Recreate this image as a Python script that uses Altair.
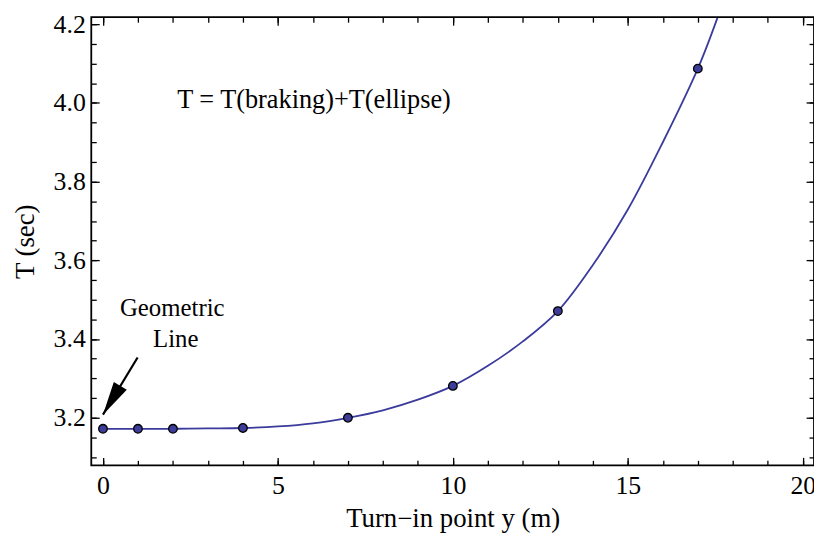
import altair as alt
import pandas as pd

# ---- data ----
point_x = [0, 1, 2, 4, 7, 10, 13, 17]
point_t = [3.172, 3.172, 3.172, 3.174, 3.200, 3.281, 3.471, 4.087]

curve_x = [0, 1, 2, 3, 4, 5, 6, 7, 8, 9, 10, 11, 12, 13, 14, 15, 16, 17, 17.56]
curve_t = [3.172, 3.172, 3.172, 3.173, 3.174, 3.178, 3.186, 3.200, 3.219, 3.246,
           3.281, 3.332, 3.394, 3.471, 3.588, 3.729, 3.900, 4.087, 4.216]

formula_text = ["T = T(braking)+T(ellipse)"]
formula_x = [2.12]
formula_t = [4.008]

geo_text = ["Geometric", "Line"]
geo_x = [1.98, 2.08]
geo_t = [3.479, 3.399]

arrow_x = [0.99]
arrow_t = [3.353]
arrow_tip_x = [0.0]
arrow_tip_t = [3.208]

x_major = [0, 5, 10, 15, 20]
x_minor = list(range(0, 21))
y_major = [3.2, 3.4, 3.6, 3.8, 4.0, 4.2]
y_minor = [round(3.1 + 0.05 * i, 2) for i in range(23)]

X_DOM = [-0.334, 20.32]
Y_DOM = [3.0792, 4.2176]

# ---- tables ----
curve_df = pd.DataFrame({"x": curve_x, "t": curve_t})
pts_df = pd.DataFrame({"x": point_x, "t": point_t})
formula_df = pd.DataFrame({"x": formula_x, "t": formula_t, "label": formula_text})
geo_df = pd.DataFrame({"x": geo_x, "t": geo_t, "label": geo_text})
arrow_df = pd.DataFrame({"x": arrow_x, "t": arrow_t, "x2": arrow_tip_x, "t2": arrow_tip_t})

xs = alt.Scale(domain=X_DOM, nice=False, zero=False)
ys = alt.Scale(domain=Y_DOM, nice=False, zero=False)

LINE_COLOR = "#3b3b9c"
FONT = "Liberation Serif"
LBL = 26
TTL = 27

common = dict(labelFont=FONT, labelFontSize=LBL, labelColor="black", titleFont=FONT,
              titleFontSize=TTL, titleFontWeight="normal", titleColor="black",
              tickColor="black", tickWidth=1.3, grid=False, domain=False)

ax_x_major = alt.Axis(orient="bottom", values=x_major, tickSize=8, offset=-8, labelPadding=7,
                      format="d", title="Turn\u2212in point y (m)", titlePadding=8, **common)
ax_x_minor = alt.Axis(orient="bottom", values=x_minor, tickSize=5, offset=-5, labels=False,
                      title=None, **common)
ax_x_top_major = alt.Axis(orient="top", values=x_major, tickSize=8, offset=-8, labels=False,
                          title=None, **common)
ax_x_top_minor = alt.Axis(orient="top", values=x_minor, tickSize=5, offset=-5, labels=False,
                          title=None, **common)

ax_y_major = alt.Axis(orient="left", values=y_major, tickSize=8, offset=-8, labelPadding=6,
                      format=".1f", title="T (sec)", titlePadding=14, **common)
ax_y_minor = alt.Axis(orient="left", values=y_minor, tickSize=5, offset=-5, labels=False,
                      title=None, **common)
ax_y_right_major = alt.Axis(orient="right", values=y_major, tickSize=8, offset=-8, labels=False,
                            title=None, **common)
ax_y_right_minor = alt.Axis(orient="right", values=y_minor, tickSize=5, offset=-5, labels=False,
                            title=None, **common)

line = alt.Chart(curve_df).mark_line(color=LINE_COLOR, strokeWidth=1.8, interpolate="catmull-rom").encode(
    x=alt.X("x:Q", scale=xs, axis=ax_x_major),
    y=alt.Y("t:Q", scale=ys, axis=ax_y_major),
)

points = alt.Chart(pts_df).mark_circle(fill="#3d3d99", stroke="black", strokeWidth=1.3,
                                       size=75, opacity=1).encode(
    x=alt.X("x:Q", scale=xs, axis=ax_x_minor),
    y=alt.Y("t:Q", scale=ys, axis=ax_y_minor),
)

formula = alt.Chart(formula_df).mark_text(font=FONT, fontSize=26.5, align="left", baseline="middle",
                                          color="black").encode(
    x=alt.X("x:Q", scale=xs, axis=ax_x_top_major),
    y=alt.Y("t:Q", scale=ys, axis=ax_y_right_major),
    text="label:N",
)

arrow = alt.Chart(arrow_df).mark_rule(color="black", strokeWidth=2.2).encode(
    x=alt.X("x:Q", scale=xs, axis=ax_x_top_minor),
    y=alt.Y("t:Q", scale=ys, axis=ax_y_right_minor),
    x2="x2:Q",
    y2="t2:Q",
)

head = alt.Chart(arrow_df).mark_point(shape="M0,0 L-0.36,1.6 L0.36,1.6 Z", filled=True, color="black",
                                      size=1800, angle=211, opacity=1).encode(
    x=alt.X("x2:Q", scale=xs, axis=None),
    y=alt.Y("t2:Q", scale=ys, axis=None),
)

geo = alt.Chart(geo_df).mark_text(font=FONT, fontSize=25, align="center", baseline="middle",
                                  color="black").encode(
    x=alt.X("x:Q", scale=xs, axis=None),
    y=alt.Y("t:Q", scale=ys, axis=None),
    text="label:N",
)

chart = alt.layer(line, points, formula, arrow, head, geo).resolve_axis(
    x="independent", y="independent"
).properties(
    width=729,
    height=452,
    padding={"left": 84, "top": 7, "right": 0, "bottom": 70},
    autosize=alt.AutoSizeParams(type="none"),
).configure_axis(
    grid=False,
    labelFont=FONT,
    titleFont=FONT,
).configure_view(
    stroke="black",
    strokeWidth=1.8,
)

chart.save("out.html", embed_options={"renderer": "svg", "actions": False})
